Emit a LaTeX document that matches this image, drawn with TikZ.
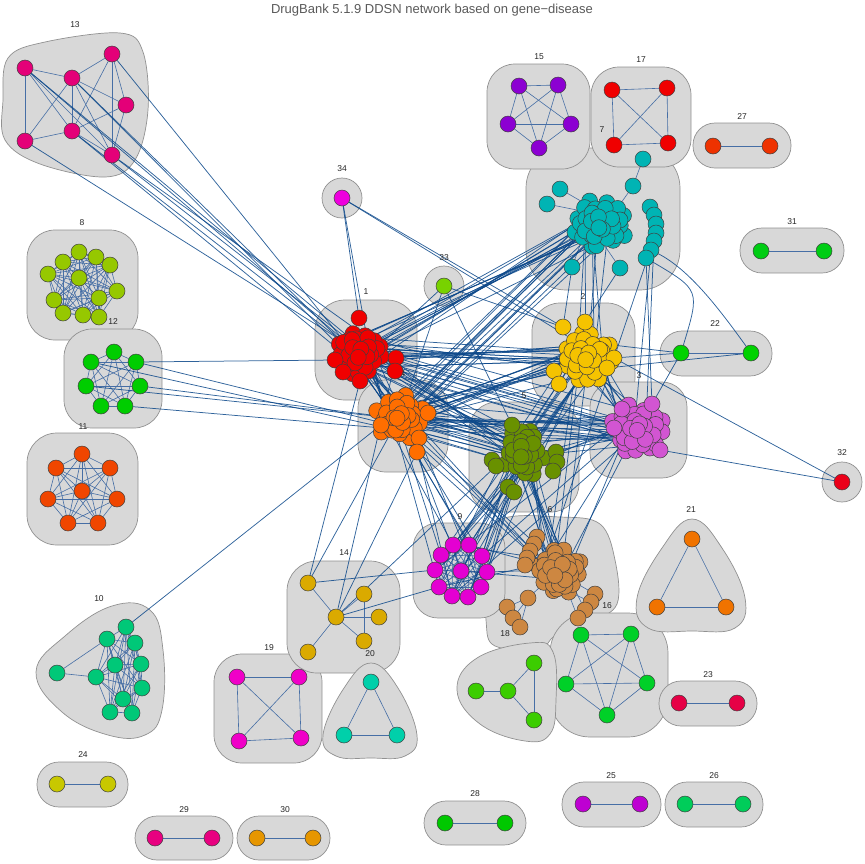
\documentclass[tikz,border=0pt]{standalone}
\usepackage{fontspec}
\setmainfont{Liberation Sans}
\usetikzlibrary{calc}
\pgfdeclarelayer{hulls}\pgfdeclarelayer{edges}
\pgfsetlayers{hulls,edges,main}
\definecolor{hullg}{RGB}{216,216,216}
\definecolor{hullb}{RGB}{145,145,145}
\definecolor{eb}{RGB}{12,72,138}
\definecolor{ib}{RGB}{70,110,165}
\definecolor{c13}{RGB}{228,0,120}
\definecolor{c8}{RGB}{150,200,0}
\definecolor{c12}{RGB}{0,205,0}
\definecolor{c11}{RGB}{240,70,0}
\definecolor{c10}{RGB}{0,200,120}
\definecolor{c24}{RGB}{200,200,0}
\definecolor{c29}{RGB}{232,0,128}
\definecolor{c30}{RGB}{230,150,0}
\definecolor{c19}{RGB}{240,0,200}
\definecolor{c14}{RGB}{218,170,0}
\definecolor{c20}{RGB}{0,208,170}
\definecolor{c9}{RGB}{228,0,210}
\definecolor{c6}{RGB}{205,135,65}
\definecolor{c16}{RGB}{0,208,40}
\definecolor{c18}{RGB}{60,205,0}
\definecolor{c21}{RGB}{240,115,0}
\definecolor{c23}{RGB}{230,0,70}
\definecolor{c28}{RGB}{0,200,0}
\definecolor{c25}{RGB}{190,0,210}
\definecolor{c26}{RGB}{0,205,90}
\definecolor{c15}{RGB}{140,0,210}
\definecolor{c17}{RGB}{240,0,0}
\definecolor{c27}{RGB}{238,50,0}
\definecolor{c31}{RGB}{0,205,20}
\definecolor{c7}{RGB}{0,180,180}
\definecolor{c34}{RGB}{238,0,222}
\definecolor{c33}{RGB}{120,210,0}
\definecolor{c1}{RGB}{240,0,0}
\definecolor{c4}{RGB}{255,110,0}
\definecolor{c2}{RGB}{245,195,0}
\definecolor{c3}{RGB}{210,85,210}
\definecolor{c5}{RGB}{105,145,0}
\definecolor{c22}{RGB}{0,210,0}
\definecolor{c32}{RGB}{235,0,25}
\tikzset{
  vtx/.style={circle, draw=black!75, line width=0.5pt, minimum size=16pt, inner sep=0pt},
  hullbox/.style={fill=hullg, draw=hullb, line width=0.7pt},
  xe/.style={draw=eb, line width=0.75pt, opacity=0.85},
  ine/.style={draw=ib, line width=0.6pt},
  numlab/.style={font=\fontsize{8.5}{10}\selectfont, text=black!85, inner sep=0pt},
}
% small group: prefix, colour, list
\newcommand\grp[3]{\foreach \x/\y [count=\k] in {#3} \node[vtx, fill=#2] (#1-\k) at (\x,\y) {};}
% extra members: prefix, colour, list, first index
\newcommand\grpx[4]{\foreach \x/\y [count=\k from #4] in {#3} \node[vtx, fill=#2] (#1-\k) at (\x,\y) {};}
% packed ball: prefix, cx, cy, N, sx, sy, colour
\newcommand\ball[7]{\foreach \k in {#4,...,1}{%
  \pgfmathsetmacro\px{#2+#5*sqrt(\k)*cos(\k*137.508)+3*rand}%
  \pgfmathsetmacro\py{#3+#6*sqrt(\k)*sin(\k*137.508)+3*rand}%
  \node[vtx, fill=#7] (#1-\k) at (\px,\py) {};}}
\newcommand\complete[2]{\foreach \i in {1,...,#2}{\foreach \j in {1,...,#2}{\ifnum\i<\j\relax\draw[ine] (#1-\i) -- (#1-\j);\fi}}}
\newcommand\elist[2]{\foreach \a/\b in {#2} \draw[ine] (#1-\a) -- (#1-\b);}
% bundle: A nA B nB count seed  (nA, nB: how many of the innermost members are used)
\newcommand\bundle[6]{\foreach \k in {1,...,#5}{%
  \pgfmathtruncatemacro\ia{mod(\k*5+#6*3,#2)+1}%
  \pgfmathtruncatemacro\ib{mod(\k*17+#6*7,#4)+1}%
  \draw[xe] (#1-\ia) -- (#3-\ib);}}
\begin{document}
\begin{tikzpicture}[x=1pt,y=-1pt]
\pgfmathsetseed{4242}
\useasboundingbox (0,0) rectangle (865,863);
\node[font=\fontsize{13}{15}\selectfont, text=black!65] (title) at (432,10) {DrugBank 5.1.9 DDSN network based on gene\textminus disease};

% ---------- hulls ----------
\begin{pgfonlayer}{hulls}
\path[hullbox] plot[smooth cycle, tension=0.6] coordinates {(3,100) (8,58) (45,42) (120,33) (143,52) (148,110) (135,160) (105,177) (40,164) (5,140)};
\path[hullbox, rounded corners=28pt] (27,230) rectangle (138,340);
\path[hullbox, rounded corners=28pt] (64,329) rectangle (162,428);
\path[hullbox, rounded corners=30pt] (27,433) rectangle (138,545);
\path[hullbox] plot[smooth cycle, tension=0.7] coordinates {(36,672) (65,636) (112,606) (150,610) (163,650) (162,710) (145,735) (108,735) (62,712)};
\path[hullbox, rounded corners=22pt] (37,762) rectangle (128,807);
\path[hullbox, rounded corners=22pt] (135,816) rectangle (233,860);
\path[hullbox, rounded corners=22pt] (237,816) rectangle (330,860);
\path[hullbox, rounded corners=28pt] (214,654) rectangle (322,763);
\path[hullbox, rounded corners=30pt] (287,561) rectangle (400,673);
\path[hullbox] plot[smooth cycle, tension=0.7] coordinates {(371,663) (398,688) (417,735) (405,756) (371,758) (336,756) (323,735) (344,688)};
\path[hullbox] plot[smooth cycle, tension=0.6] coordinates {(500,520) (560,517) (600,524) (615,560) (617,604) (590,622) (555,636) (540,648) (495,646) (486,620) (487,560)};
\path[hullbox, rounded corners=25pt] (413,523) rectangle (505,618);
\path[hullbox, rounded corners=40pt] (550,613) rectangle (668,737);
\path[hullbox] plot[smooth cycle, tension=0.7] coordinates {(457,690) (477,658) (530,643) (553,652) (556,700) (550,734) (525,741) (480,724)};
\path[hullbox] plot[smooth cycle, tension=0.7] coordinates {(692,519) (722,548) (745,598) (735,628) (692,631) (648,628) (637,598) (662,548)};
\path[hullbox, rounded corners=22pt] (659,681) rectangle (757,726);
\path[hullbox, rounded corners=22pt] (424,801) rectangle (526,845);
\path[hullbox, rounded corners=22pt] (562,782) rectangle (661,827);
\path[hullbox, rounded corners=22pt] (665,782) rectangle (763,827);
\path[hullbox, rounded corners=40pt] (526,148) rectangle (680,290);
\path[hullbox, rounded corners=28pt] (487,64) rectangle (590,169);
\path[hullbox, rounded corners=28pt] (591,67) rectangle (691,167);
\path[hullbox, rounded corners=22pt] (693,123) rectangle (791,168);
\path[hullbox, rounded corners=22pt] (740,228) rectangle (844,273);
\path[hullbox] (342,198) circle[radius=20];
\path[hullbox] (444,286) circle[radius=20];
\path[hullbox] (842,482) circle[radius=20];
\path[hullbox, rounded corners=30pt] (315,300) rectangle (417,400);
\path[hullbox, rounded corners=28pt] (358,380) rectangle (448,472);
\path[hullbox, rounded corners=28pt] (532,303) rectangle (635,406);
\path[hullbox, rounded corners=25pt] (590,382) rectangle (687,478);
\path[hullbox, rounded corners=28pt] (469,402) rectangle (579,512);
\path[hullbox, rounded corners=22pt] (660,331) rectangle (772,376);
\end{pgfonlayer}

% ---------- labels ----------
\foreach \t/\x/\y in {13/75/25, 8/82/223, 12/113/322, 11/83/427, 10/99/599, 24/83/755, 29/184/810, 30/285/810, 19/269/648, 14/344/553, 20/370/654, 9/460/517, 6/550/510, 16/607/606, 18/505/634, 21/691/510, 23/708/675, 28/475/794, 25/611/776, 26/714/776, 15/539/57, 17/641/60, 7/602/130, 27/742/117, 31/792/222, 34/342/169, 33/444/258, 1/366/292, 4/403/374, 2/583/297, 3/639/376, 5/524/396, 22/715/324, 32/842/453}
  \node[numlab] (lab\t) at (\x,\y) {\t};

% ---------- big clusters ----------
\ball{n7}{600}{224}{30}{4.9}{4.5}{c7}
\grpx{n7}{c7}{650/207, 654/215, 656/224, 656/233, 654/241, 651/250, 646/258, 643/159, 633/186, 560/189, 547/204, 572/267, 620/268}{31}
\ball{n1}{360}{352}{28}{4.6}{4.0}{c1}
\grpx{n1}{c1}{359/318, 335/360, 360/381, 396/358, 395/371, 343/372}{29}
\ball{n4}{400}{418}{26}{4.4}{4.2}{c4}
\grpx{n4}{c4}{428/413, 419/438, 417/452, 381/425}{27}
\ball{n2}{588}{357}{28}{4.7}{4.5}{c2}
\grpx{n2}{c2}{563/327, 585/322, 554/371, 559/384, 614/358, 607/368}{29}
\ball{n3}{638}{430}{28}{4.8}{4.6}{c3}
\grpx{n3}{c3}{652/404, 660/450, 622/409, 614/428}{29}
\ball{n5}{523}{452}{24}{4.0}{4.8}{c5}
\grpx{n5}{c5}{512/425, 492/460, 496/466, 508/487, 514/492, 556/452, 557/462, 553/471}{25}
\ball{n6}{560}{572}{28}{4.3}{4.3}{c6}
\grpx{n6}{c6}{537/537, 534/544, 530/551, 527/558, 525/565, 528/598, 507/607, 513/618, 520/627, 595/594, 591/602, 585/610, 578/618}{29}

% ---------- small clusters ----------
\grp{n13}{c13}{25/68, 72/78, 112/54, 126/105, 72/131, 25/141, 112/155}
\grp{n8}{c8}{79/252, 63/262, 96/257, 110/265, 48/274, 79/278, 117/291, 99/298, 54/300, 63/313, 83/315, 99/317}
\grp{n12}{c12}{114/352, 91/362, 136/362, 86/386, 140/386, 101/406, 125/406}
\grp{n11}{c11}{82/454, 56/468, 110/468, 82/491, 48/499, 117/499, 68/523, 98/523}
\grp{n10}{c10}{126/627, 107/639, 135/643, 57/673, 96/677, 115/665, 141/664, 142/688, 123/699, 110/712, 132/713}
\grp{n24}{c24}{57/784, 108/784}
\grp{n29}{c29}{155/838, 212/838}
\grp{n30}{c30}{257/838, 313/838}
\grp{n19}{c19}{237/677, 299/677, 239/741, 301/738}
\grp{n14}{c14}{308/583, 364/594, 336/617, 379/617, 364/641, 308/652}
\grp{n20}{c20}{371/682, 344/735, 397/735}
\grp{n9}{c9}{453/545, 469/545, 441/555, 482/556, 435/570, 461/571, 487/572, 439/587, 481/587, 452/596, 468/597}
\grp{n16}{c16}{581/635, 631/634, 566/684, 647/683, 607/715}
\grp{n18}{c18}{476/691, 508/691, 534/663, 534/720}
\grp{n21}{c21}{692/539, 657/607, 726/607}
\grp{n23}{c23}{679/703, 737/703}
\grp{n28}{c28}{445/823, 505/823}
\grp{n25}{c25}{583/804, 640/804}
\grp{n26}{c26}{685/804, 743/804}
\grp{n15}{c15}{519/86, 558/85, 508/124, 571/124, 539/148}
\grp{n17}{c17}{612/90, 667/88, 614/145, 668/143}
\grp{n27}{c27}{713/146, 770/146}
\grp{n31}{c31}{761/251, 824/251}
\grp{n34}{c34}{342/198}
\grp{n33}{c33}{444/286}
\grp{n32}{c32}{842/482}
\grp{n22}{c22}{681/353, 751/353}

% ---------- connectors ----------
\begin{pgfonlayer}{edges}
\elist{n13}{1/2, 1/5, 1/6, 1/7, 2/3, 2/4, 2/5, 2/7, 3/4, 3/5, 3/7, 4/5, 4/7, 5/6, 5/7, 6/2}
\complete{n8}{12}
\complete{n12}{7}
\complete{n11}{8}
\elist{n10}{4/2, 4/5}
\foreach \i in {1,2,3,5,6,7,8,9,10,11}{\foreach \j in {1,2,3,5,6,7,8,9,10,11}{\ifnum\i<\j\relax\draw[ine] (n10-\i) -- (n10-\j);\fi}}
\elist{n24}{1/2}
\elist{n29}{1/2}
\elist{n30}{1/2}
\complete{n19}{4}
\elist{n14}{1/3, 2/3, 3/4, 3/5, 3/6, 2/5}
\complete{n20}{3}
\complete{n9}{11}
\complete{n16}{5}
\elist{n18}{1/2, 2/3, 2/4, 3/4}
\complete{n21}{3}
\elist{n23}{1/2}
\elist{n28}{1/2}
\elist{n25}{1/2}
\elist{n26}{1/2}
\complete{n15}{5}
\complete{n17}{4}
\elist{n27}{1/2}
\elist{n31}{1/2}
\elist{n22}{1/2}
\elist{n7}{38/39, 39/3, 40/5, 41/7, 42/9, 43/12}
\elist{n6}{29/3, 31/5, 33/8, 34/10, 35/34, 36/34, 37/34, 38/12, 39/14, 40/16, 41/7}
% inter-cluster bundles
\foreach \a/\b in {1/4, 1/7, 2/1, 2/9, 5/12, 5/6, 6/3, 7/10, 7/2, 3/11}
  \draw[xe] (n13-\a) -- (n1-\b);
\bundle{n1}{12}{n7}{12}{14}{2}
\bundle{n4}{12}{n7}{12}{12}{3}
\bundle{n1}{12}{n2}{12}{16}{4}
\bundle{n4}{12}{n2}{12}{14}{5}
\bundle{n1}{12}{n3}{12}{10}{6}
\bundle{n4}{12}{n3}{12}{14}{7}
\bundle{n1}{12}{n5}{12}{10}{8}
\bundle{n4}{12}{n5}{12}{16}{9}
\bundle{n1}{12}{n4}{12}{14}{10}
\bundle{n2}{12}{n7}{12}{6}{11}
\bundle{n2}{12}{n5}{12}{10}{12}
\bundle{n2}{12}{n3}{12}{10}{13}
\bundle{n5}{12}{n3}{12}{8}{14}
\bundle{n9}{11}{n5}{12}{18}{15}
\bundle{n9}{11}{n4}{12}{9}{16}
\bundle{n9}{11}{n2}{12}{3}{17}
\bundle{n9}{11}{n3}{12}{3}{18}
\bundle{n9}{11}{n6}{12}{5}{19}
\bundle{n6}{12}{n5}{12}{12}{20}
\bundle{n6}{12}{n2}{12}{3}{21}
\bundle{n6}{12}{n3}{12}{3}{22}
\bundle{n6}{12}{n4}{12}{3}{23}
\bundle{n6}{12}{n1}{12}{2}{24}
\bundle{n12}{7}{n4}{12}{5}{25}
\draw[xe] (n7-35) -- (n3-3);
\draw[xe] (n7-36) -- (n3-7);
\draw[xe] (n7-37) -- (n3-29);
\draw[xe] (n12-3) -- (n1-30);
\draw[xe] (n10-1) -- (n4-30);
\draw[xe] (n34-1) -- (n1-29);
\draw[xe] (n34-1) -- (n1-5);
\draw[xe] (n34-1) -- (n2-29);
\draw[xe] (n34-1) -- (n2-20);
\draw[xe] (n33-1) -- (n1-3);
\draw[xe] (n33-1) -- (n4-6);
\draw[xe] (n33-1) -- (n2-29);
\draw[xe] (n33-1) -- (n5-25);
\draw[xe] (n14-1) -- (n1-31);
\draw[xe] (n14-1) -- (n4-2);
\draw[xe] (n14-3) -- (n1-32);
\draw[xe] (n14-3) -- (n4-29);
\draw[xe] (n14-1) -- (n9-5);
\draw[xe] (n14-3) -- (n9-8);
\draw[xe] (n14-3) -- (n5-27);
\draw[xe] (n2-33) -- (n22-1);
\draw[xe] (n2-34) -- (n22-2);
\draw[xe] (n2-20) -- (n22-1);
\draw[xe] (n3-29) -- (n22-1);
\draw[xe] (n3-30) -- (n32-1);
\draw[xe] (n2-33) -- (n32-1);
\draw[xe] (n7-43) -- (n2-30);
\draw[xe] (n7-42) -- (n2-29);
\draw[xe] (n7-34) -- (n6-12);
\draw[xe] (n7-36) .. controls (690,270) and (720,310) .. (n22-2);
\draw[xe] (n7-37) .. controls (700,290) .. (n22-1);
\end{pgfonlayer}
\end{tikzpicture}
\end{document}
